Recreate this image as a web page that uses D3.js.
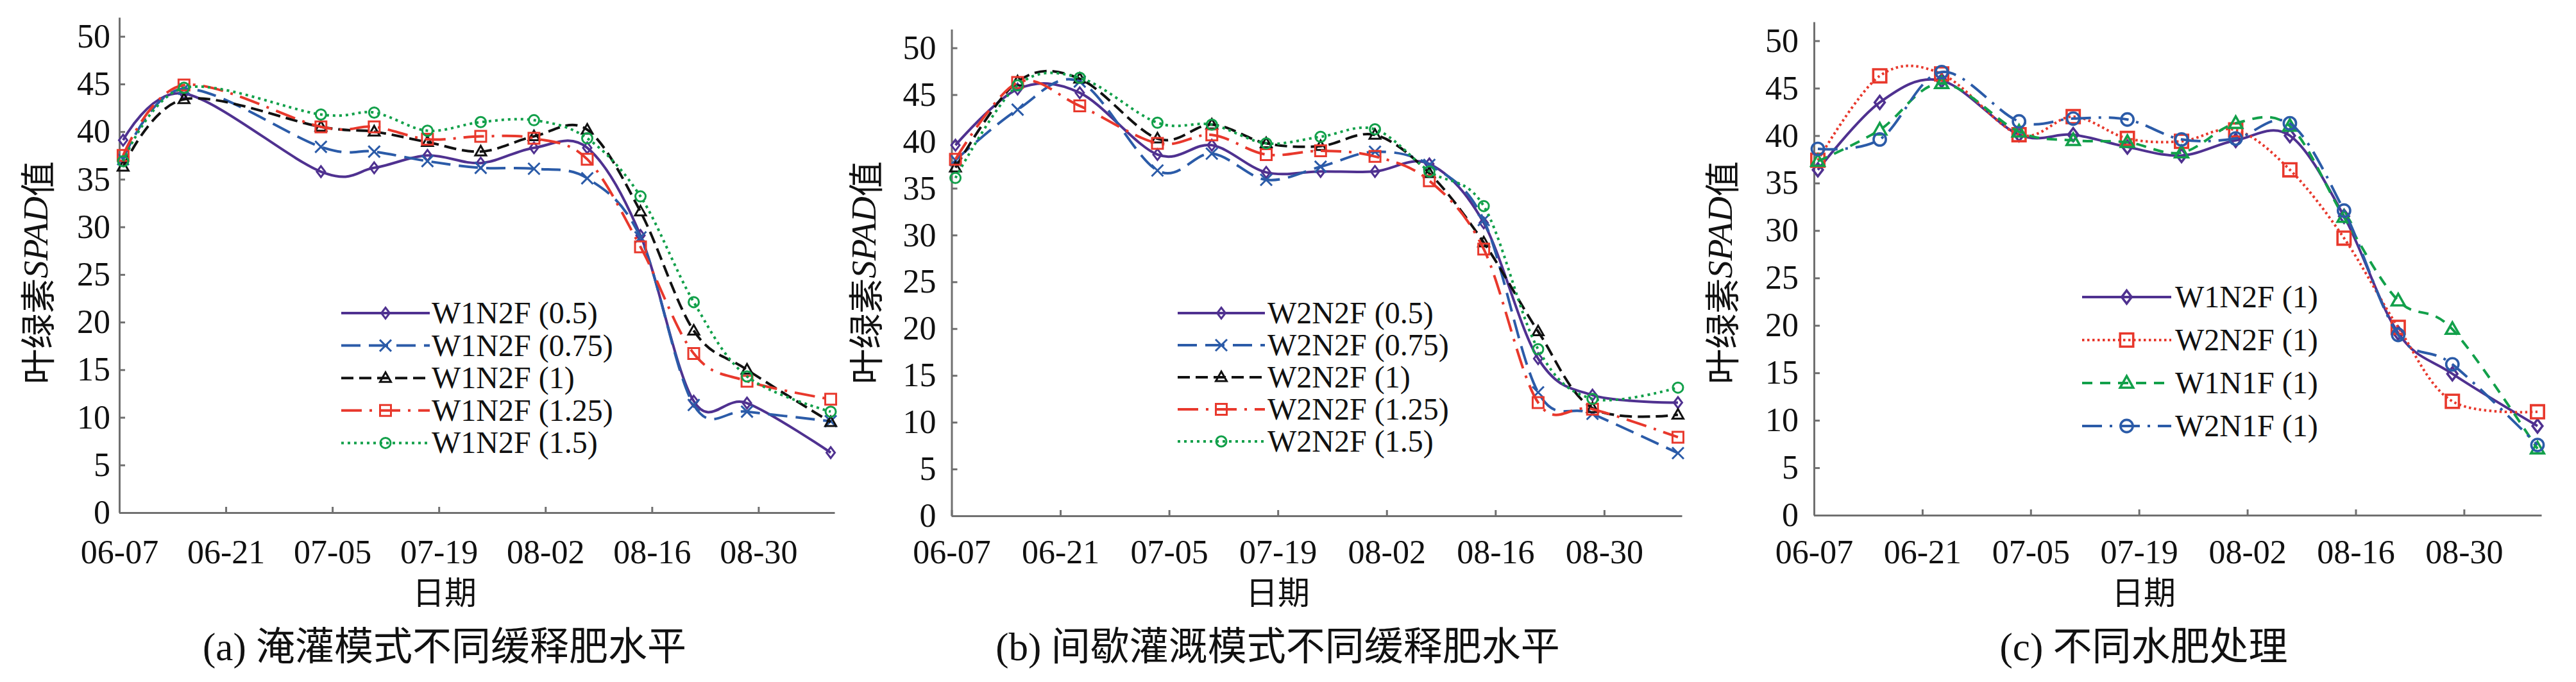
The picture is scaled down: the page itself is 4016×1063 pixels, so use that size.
<!DOCTYPE html>
<html>
<head>
<meta charset="utf-8">
<script src="https://cdn.jsdelivr.net/npm/d3@7"></script>
<style>
  body { margin: 0; background: #fff; }
  svg { display: block; }
</style>
</head>
<body>
<svg></svg>
<script>
// sampling dates (MM-DD)
const datesA = ["06-07", "06-15", "07-03", "07-10", "07-17", "07-24", "07-31", "08-07", "08-14", "08-21", "08-28", "09-08"]
const datesBC = ["06-07", "06-15", "06-23", "07-03", "07-10", "07-17", "07-24", "07-31", "08-07", "08-14", "08-21", "08-28", "09-08"]

const xTickLabels = ["06-07", "06-21", "07-05", "07-19", "08-02", "08-16", "08-30"]
const xDomain = ["06-07", "09-09"]
const yTicks = [0, 5, 10, 15, 20, 25, 30, 35, 40, 45, 50]
const yDomain = [0, 52]

// (a) flooded irrigation
const namesA = ["W1N2F (0.5)", "W1N2F (0.75)", "W1N2F (1)", "W1N2F (1.25)", "W1N2F (1.5)"]
const a_05 = [39.1, 44.0, 35.8, 36.2, 37.5, 36.7, 38.3, 38.3, 29.1, 11.7, 11.5, 6.3]
const a_075 = [37.1, 44.5, 38.4, 37.9, 36.9, 36.2, 36.1, 35.1, 28.9, 11.3, 10.6, 9.6]
const a_1 = [36.3, 43.4, 40.5, 40.0, 38.9, 37.9, 39.5, 40.2, 31.6, 19.1, 15.0, 9.5]
const a_125 = [37.5, 44.9, 40.5, 40.5, 39.2, 39.5, 39.3, 37.1, 27.9, 16.7, 13.8, 11.9]
const a_15 = [36.9, 44.6, 41.8, 42.0, 40.1, 41.0, 41.2, 39.3, 33.2, 22.1, 14.3, 10.6]

// (b) intermittent irrigation
const namesB = ["W2N2F (0.5)", "W2N2F (0.75)", "W2N2F (1)", "W2N2F (1.25)", "W2N2F (1.5)"]
const b_05 = [39.6, 45.6, 45.2, 38.6, 39.6, 36.7, 36.8, 36.8, 37.6, 31.3, 16.8, 12.9, 12.1]
const b_075 = [38.0, 43.4, 46.4, 36.9, 38.7, 35.9, 37.3, 38.9, 37.5, 31.6, 13.2, 10.9, 6.7]
const b_1 = [37.2, 46.4, 46.7, 40.3, 41.8, 39.8, 39.5, 40.7, 36.6, 29.2, 19.7, 11.5, 10.8]
const b_125 = [38.1, 46.3, 43.8, 39.8, 40.7, 38.6, 39.0, 38.4, 35.8, 28.5, 12.1, 11.4, 8.4]
const b_15 = [36.1, 46.0, 46.8, 42.0, 41.8, 39.8, 40.5, 41.3, 36.8, 33.1, 17.8, 12.5, 13.7]

// (c) water/fertilizer treatments
const namesC = ["W1N2F (1)", "W2N2F (1)", "W1N1F (1)", "W2N1F (1)"]
const c_w1n2f = [36.4, 43.5, 45.8, 40.1, 40.1, 38.8, 37.9, 39.5, 40.0, 31.5, 19.2, 14.9, 9.4]
const c_w2n2f = [37.4, 46.3, 46.5, 40.1, 42.0, 39.7, 39.4, 40.6, 36.4, 29.2, 19.8, 12.0, 10.9]
const c_w1n1f = [37.3, 40.6, 45.5, 40.4, 39.5, 39.3, 38.2, 41.3, 41.0, 31.4, 22.6, 19.6, 7.0]
const c_w2n1f = [38.6, 39.6, 46.7, 41.5, 41.8, 41.7, 39.6, 39.7, 41.3, 32.1, 19.0, 15.9, 7.4]

const captions = ["(a) 淹灌模式不同缓释肥水平", "(b) 间歇灌溉模式不同缓释肥水平", "(c) 不同水肥处理"]

const PURPLE = "#4f3190", BLUE = "#2b5ba8", BLACK = "#111111", RED = "#e8382c", GREEN = "#12a04a"
const AXIS = "#707070"
const SERIF = "'Liberation Serif', 'Times New Roman', serif"
const CJK = "'Noto Sans CJK SC', sans-serif"

const stylesAB = [
  { color: PURPLE, dash: null, marker: "diamond" },
  { color: BLUE, dash: "30,13", marker: "x" },
  { color: BLACK, dash: "19,9", marker: "triangle" },
  { color: RED, dash: "32,12,4,12", marker: "square" },
  { color: GREEN, dash: "4,6", marker: "circle" }
]
const stylesC = [
  { color: PURPLE, dash: null, marker: "diamond" },
  { color: RED, dash: "3.5,4.5", marker: "square" },
  { color: GREEN, dash: "16,12", marker: "triangle" },
  { color: BLUE, dash: "31,12,4,12", marker: "circle" }
]

const panels = [
  { dates: datesA, names: namesA, values: [a_05, a_075, a_1, a_125, a_15], styles: stylesAB,
    left: 186, right: 1301, y0: 799, y50: 56.7, yPad: 14, yTitleX: 55, titleX: 693, caption: captions[0],
    leg: { x1: 532, x2: 670, tx: 673, y: 488, dy: 50.6 }, ms: 1 },
  { dates: datesBC, names: namesB, values: [b_05, b_075, b_1, b_125, b_15], styles: stylesAB,
    left: 1483.5, right: 2622, y0: 804, y50: 74.6, yPad: 24, yTitleX: 1346, titleX: 1992, caption: captions[1],
    leg: { x1: 1836, x2: 1972, tx: 1976, y: 488, dy: 50 }, ms: 1 },
  { dates: datesBC, names: namesC, values: [c_w1n2f, c_w2n2f, c_w1n1f, c_w2n1f], styles: stylesC,
    left: 2828, right: 3962, y0: 803, y50: 63.5, yPad: 24, yTitleX: 2681, titleX: 3342, caption: captions[2],
    leg: { x1: 3246, x2: 3385, tx: 3391, y: 463, dy: 67 }, ms: 1.2 }
]

const svg = d3.select("svg")
  .attr("width", 4016)
  .attr("height", 1063)

const parseDay = s => d3.utcParse("%Y-%m-%d")("2018-" + s)
// Excel date axis: each day's point sits in the middle of its day slot
const midDay = s => d3.utcHour.offset(parseDay(s), 12)

const markerPath = (type, k) => {
  if (type === "diamond") return `M0,${-8.5 * k}L${6.5 * k},0L0,${8.5 * k}L${-6.5 * k},0Z`
  if (type === "x") return `M${-9 * k},${-9 * k}L${9 * k},${9 * k}M${-9 * k},${9 * k}L${9 * k},${-9 * k}`
  if (type === "triangle") return `M0,${-9 * k}L${8.5 * k},${6 * k}L${-8.5 * k},${6 * k}Z`
  if (type === "square") return `M${-8.5 * k},${-8.5 * k}H${8.5 * k}V${8.5 * k}H${-8.5 * k}Z`
  return d3.symbol(d3.symbolCircle, Math.PI * 64 * k * k)()
}

const drawPanel = (p) => {
  const g = svg.append("g")

  const x = d3.scaleUtc()
    .domain(xDomain.map(parseDay))
    .range([p.left, p.right])
  const unit = (p.y0 - p.y50) / 50
  const y = d3.scaleLinear()
    .domain(yDomain)
    .range([p.y0, p.y0 - yDomain[1] * unit])

  const yAxis = d3.axisLeft(y)
    .tickValues(yTicks)
    .tickSizeInner(-9)
    .tickSizeOuter(0)
    .tickPadding(p.yPad)
  const xAxis = d3.axisBottom(x)
    .tickValues(xTickLabels.map(parseDay))
    .tickFormat((d, i) => xTickLabels[i])
    .tickSizeInner(-9)
    .tickSizeOuter(0)

  const yg = g.append("g")
    .attr("transform", `translate(${p.left},0)`)
    .call(yAxis)
  const xg = g.append("g")
    .attr("transform", `translate(0,${p.y0})`)
    .call(xAxis)

  ;[yg, xg].forEach(a => {
    a.attr("font-size", null).attr("font-family", null)
    a.selectAll(".domain, .tick line").attr("stroke", AXIS).attr("stroke-width", 3)
    a.selectAll("text")
      .attr("fill", "#111")
      .style("font-family", SERIF)
      .style("font-size", "52px")
  })
  xg.selectAll("text").attr("y", 878 - p.y0).attr("dy", 0)

  // axis titles
  g.append("text")
    .attr("transform", `translate(${p.yTitleX},425) rotate(-90)`)
    .attr("text-anchor", "middle")
    .attr("dominant-baseline", "central")
    .attr("fill", "#111")
    .style("font-size", "55px")
    .style("font-family", CJK)
    .call(t => {
      t.append("tspan").text("叶绿素")
      t.append("tspan").style("font-family", SERIF).style("font-style", "italic").text("SPAD")
      t.append("tspan").text("值")
    })

  g.append("text")
    .attr("x", p.titleX)
    .attr("y", 942)
    .attr("text-anchor", "middle")
    .attr("fill", "#111")
    .style("font-size", "50px")
    .style("font-family", CJK)
    .text("日期")

  const capParts = p.caption.split(" ")
  g.append("text")
    .attr("x", p.titleX)
    .attr("y", 1029)
    .attr("text-anchor", "middle")
    .attr("fill", "#111")
    .style("font-size", "61px")
    .call(t => {
      t.append("tspan").style("font-family", SERIF).text(capParts[0] + " ")
      t.append("tspan").style("font-family", CJK).text(capParts[1])
    })

  const line = d3.line()
    .x((d, i) => x(midDay(p.dates[i])))
    .y((d, i) => y(d))
    .curve(d3.curveCardinal.tension(0))

  const series = g.append("g")
    .selectAll("g")
    .data(p.values)
    .enter()
    .append("g")

  series.append("path")
    .attr("d", (d, i) => line(d))
    .attr("fill", "none")
    .attr("stroke", (d, i) => p.styles[i].color)
    .attr("stroke-width", 4)
    .attr("stroke-dasharray", (d, i) => p.styles[i].dash)

  series.each(function(vals, si) {
    const st = p.styles[si]
    d3.select(this)
      .selectAll("path.mk")
      .data(vals)
      .enter()
      .append("path")
      .attr("class", "mk")
      .attr("transform", (d, i) => `translate(${x(midDay(p.dates[i]))},${y(d)})`)
      .attr("d", markerPath(st.marker, p.ms))
      .attr("fill", "none")
      .attr("stroke", st.color)
      .attr("stroke-width", 3 * p.ms)
  })

  // legend
  const leg = g.append("g")
    .selectAll("g")
    .data(p.names)
    .enter()
    .append("g")
    .attr("transform", (d, i) => `translate(0,${p.leg.y + i * p.leg.dy})`)

  leg.append("path")
    .attr("d", `M${p.leg.x1},0H${p.leg.x2}`)
    .attr("stroke", (d, i) => p.styles[i].color)
    .attr("stroke-width", 4)
    .attr("stroke-dasharray", (d, i) => p.styles[i].dash)

  leg.append("path")
    .attr("transform", `translate(${(p.leg.x1 + p.leg.x2) / 2},0)`)
    .attr("d", (d, i) => markerPath(p.styles[i].marker, p.ms))
    .attr("fill", "none")
    .attr("stroke", (d, i) => p.styles[i].color)
    .attr("stroke-width", 3 * p.ms)

  leg.append("text")
    .attr("x", p.leg.tx)
    .attr("y", 16)
    .attr("fill", "#111")
    .style("font-family", SERIF)
    .style("font-size", "48px")
    .text(d => d)
}

panels.forEach(drawPanel)
</script>
</body>
</html>
